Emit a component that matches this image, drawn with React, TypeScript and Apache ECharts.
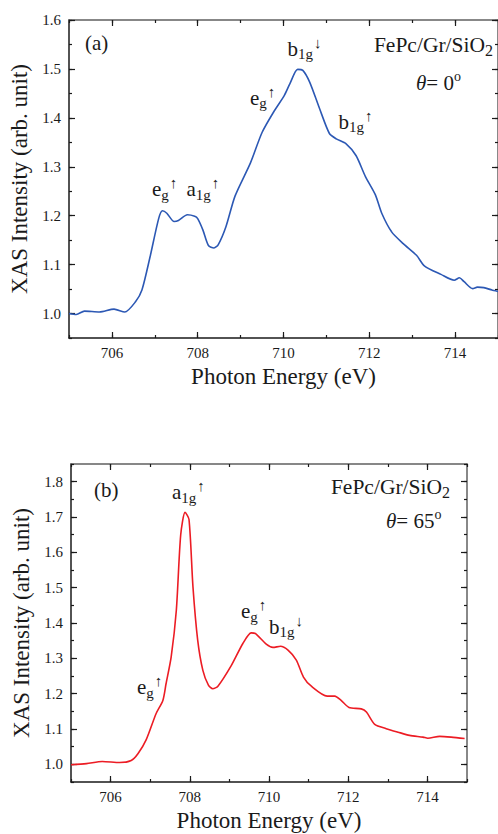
import React, { useEffect, useRef } from "react";
import * as echarts from "echarts";

// ---------- data ----------
const energyA = [705.0, 705.17, 705.36, 705.71, 706.05, 706.3, 706.55, 706.7, 706.89, 707.09, 707.18, 707.28, 707.45, 707.55, 707.76, 707.93, 708.0, 708.12, 708.25, 708.38, 708.48, 708.66, 708.87, 709.23, 709.5, 709.77, 710.02, 710.15, 710.33, 710.45, 710.61, 710.84, 711.07, 711.23, 711.46, 711.69, 711.91, 712.14, 712.29, 712.52, 712.79, 713.1, 713.29, 713.67, 713.98, 714.1, 714.21, 714.41, 714.52, 714.67, 714.86, 715.0];
const intensityA = [1.0, 0.998, 1.005, 1.003, 1.009, 1.003, 1.024, 1.048, 1.116, 1.194, 1.21, 1.205, 1.188, 1.19, 1.202, 1.199, 1.194, 1.171, 1.139, 1.134, 1.141, 1.178, 1.24, 1.308, 1.37, 1.412, 1.446, 1.47, 1.499, 1.497, 1.473, 1.419, 1.368, 1.357, 1.347, 1.323, 1.28, 1.243, 1.205, 1.167, 1.143, 1.119, 1.097, 1.08, 1.068, 1.073, 1.065, 1.051, 1.054, 1.053, 1.048, 1.045];

const energyB = [705.0, 705.39, 705.79, 706.23, 706.52, 706.69, 706.9, 707.15, 707.32, 707.4, 707.53, 707.66, 707.77, 707.88, 707.98, 708.08, 708.2, 708.33, 708.47, 708.58, 708.71, 709.05, 709.34, 709.55, 709.66, 709.93, 710.1, 710.29, 710.48, 710.69, 710.87, 711.07, 711.47, 711.66, 711.82, 712.02, 712.33, 712.46, 712.67, 712.96, 713.26, 713.55, 713.89, 714.01, 714.31, 714.6, 714.94];
const intensityB = [0.999, 1.002, 1.008, 1.005, 1.011, 1.03, 1.07, 1.144, 1.181, 1.228, 1.304, 1.436, 1.649, 1.713, 1.693, 1.502, 1.351, 1.266, 1.224, 1.214, 1.221, 1.28, 1.342, 1.372, 1.37, 1.34, 1.331, 1.334, 1.323, 1.295, 1.247, 1.221, 1.193, 1.193, 1.181, 1.161, 1.157, 1.148, 1.113, 1.101, 1.091, 1.082, 1.077, 1.074, 1.079, 1.077, 1.073];

const xRange = [705, 715];
const xMajorTicks = [706, 708, 710, 712, 714];
const yRangeA = [0.95, 1.6];
const yMajorTicksA = [1.0, 1.1, 1.2, 1.3, 1.4, 1.5, 1.6];
const yRangeB = [0.95, 1.85];
const yMajorTicksB = [1.0, 1.1, 1.2, 1.3, 1.4, 1.5, 1.6, 1.7, 1.8];

const xTitle = "Photon Energy (eV)";
const yTitle = "XAS Intensity (arb. unit)";
const sampleText = "FePc/Gr/SiO";

const FONT = "Liberation Serif";
const DARK = "#1a1a1a";
const FRAME = "#606060";

function axesFor(gridIndex: number, yr: number[], yMajors: number[], yGap: number) {
  const common = { type: "value", gridIndex, splitLine: { show: false } };
  const xAxes = [
    {
      ...common, position: "bottom", min: xRange[0], max: xRange[1], interval: 1,
      axisLine: { show: true, onZero: false, lineStyle: { color: DARK, width: 1.5 } },
      axisTick: { show: true, inside: true, length: 6, customValues: xMajorTicks, lineStyle: { color: DARK, width: 1.2 } },
      axisLabel: { show: true, customValues: xMajorTicks, margin: 7, fontFamily: FONT, fontSize: 15, color: DARK },
      name: xTitle, nameLocation: "middle", nameGap: 27,
      nameTextStyle: { fontFamily: FONT, fontSize: 23, color: DARK },
    },
    {
      ...common, position: "bottom", min: xRange[0], max: xRange[1], interval: 1,
      axisLine: { show: false, onZero: false },
      axisTick: { show: true, inside: true, length: 3, lineStyle: { color: DARK, width: 1.2 } },
      axisLabel: { show: false },
    },
    {
      ...common, position: "top", min: xRange[0], max: xRange[1], interval: 1,
      axisLine: { show: true, onZero: false, lineStyle: { color: FRAME, width: 1.5 } },
      axisTick: { show: true, inside: true, length: 6, customValues: xMajorTicks, lineStyle: { color: DARK, width: 1.2 } },
      axisLabel: { show: false },
    },
    {
      ...common, position: "top", min: xRange[0], max: xRange[1], interval: 1,
      axisLine: { show: false, onZero: false },
      axisTick: { show: true, inside: true, length: 3, lineStyle: { color: DARK, width: 1.2 } },
      axisLabel: { show: false },
    },
  ];
  const yAxes = [
    {
      ...common, position: "left", min: yr[0], max: yr[1], interval: 0.05,
      axisLine: { show: true, onZero: false, lineStyle: { color: DARK, width: 1.5 } },
      axisTick: { show: true, inside: true, length: 6, customValues: yMajors, lineStyle: { color: DARK, width: 1.2 } },
      axisLabel: {
        show: true, customValues: yMajors, margin: 8, fontFamily: FONT, fontSize: 15, color: DARK,
        formatter: (v: number) => v.toFixed(1),
      },
      name: yTitle, nameLocation: "middle", nameGap: yGap,
      nameTextStyle: { fontFamily: FONT, fontSize: 23, color: DARK },
    },
    {
      ...common, position: "left", min: yr[0], max: yr[1], interval: 0.05,
      axisLine: { show: false, onZero: false },
      axisTick: { show: true, inside: true, length: 3, lineStyle: { color: DARK, width: 1.2 } },
      axisLabel: { show: false },
    },
    {
      ...common, position: "right", min: yr[0], max: yr[1], interval: 0.05,
      axisLine: { show: true, onZero: false, lineStyle: { color: FRAME, width: 1.5 } },
      axisTick: { show: true, inside: true, length: 6, customValues: yMajors, lineStyle: { color: DARK, width: 1.2 } },
      axisLabel: { show: false },
    },
    {
      ...common, position: "right", min: yr[0], max: yr[1], interval: 0.05,
      axisLine: { show: false, onZero: false },
      axisTick: { show: true, inside: true, length: 3, lineStyle: { color: DARK, width: 1.2 } },
      axisLabel: { show: false },
    },
  ];
  return { xAxes, yAxes };
}

const mainStyle = { fontFamily: FONT, fontSize: 21, fill: DARK, color: DARK };
const subStyle = { fontFamily: FONT, fontSize: 15, fill: DARK, color: DARK, padding: [11, 0, 0, 0] };
const supStyle = { fontFamily: FONT, fontSize: 15, fill: DARK, color: DARK, padding: [0, 0, 12, 1] };
const italicStyle = { fontFamily: FONT, fontSize: 21, fontStyle: "italic", fill: DARK, color: DARK };
const degStyle = { fontFamily: FONT, fontSize: 14, fill: DARK, color: DARK, padding: [0, 0, 12, 0] };

function peak(x: number, y: number, main: string, sub: string, arrow: string) {
  return {
    type: "text", x, y, silent: true,
    style: {
      text: `{m|${main}}{s|${sub}}{u|${arrow}}`,
      align: "left", verticalAlign: "middle",
      rich: { m: mainStyle, s: subStyle, u: supStyle },
    },
  };
}

function plain(x: number, y: number, text: string, align = "left") {
  return {
    type: "text", x, y, silent: true,
    style: { text: `{m|${text}}`, align, verticalAlign: "middle", rich: { m: mainStyle } },
  };
}

function sample(xRight: number, y: number) {
  return {
    type: "text", x: xRight, y, silent: true,
    style: {
      text: `{m|${sampleText}}{s|2}`, align: "right", verticalAlign: "middle",
      rich: { m: { ...mainStyle, fontSize: 21.5 }, s: { ...subStyle, fontSize: 16, padding: [11, 0, 0, 0] } },
    },
  };
}

function angle(x: number, y: number, deg: string) {
  return {
    type: "text", x, y, silent: true,
    style: {
      text: `{i|θ}{m|= ${deg}}{d|o}`, align: "left", verticalAlign: "middle",
      rich: { i: italicStyle, m: mainStyle, d: degStyle },
    },
  };
}

export default function App() {
  const ref = useRef<HTMLDivElement>(null);
  useEffect(() => {
    if (!ref.current) return;
    const chart = echarts.init(ref.current, null, { renderer: "svg" });
    const a = axesFor(0, yRangeA, yMajorTicksA, 33);
    const b = axesFor(1, yRangeB, yMajorTicksB, 35);
    const option: any = {
      animation: false,
      backgroundColor: "#ffffff",
      textStyle: { fontFamily: FONT },
      grid: [
        { left: 69, top: 20, width: 435, height: 318 },
        { left: 71, top: 464, width: 396, height: 318 },
      ],
      xAxis: [...a.xAxes, ...b.xAxes],
      yAxis: [...a.yAxes, ...b.yAxes],
      series: [
        {
          type: "line", xAxisIndex: 0, yAxisIndex: 0, showSymbol: false, smooth: 0.25,
          data: energyA.map((e, i) => [e, intensityA[i]]),
          lineStyle: { color: "#2c58b4", width: 1.6 }, clip: true, silent: true,
        },
        {
          type: "line", xAxisIndex: 4, yAxisIndex: 4, showSymbol: false, smooth: 0.25,
          data: energyB.map((e, i) => [e, intensityB[i]]),
          lineStyle: { color: "#ec1c24", width: 1.6 }, clip: true, silent: true,
        },
      ],
      graphic: [
        plain(85, 43, "(a)"),
        sample(493, 45),
        angle(416, 82.5, "0"),
        peak(152, 189, "e", "g", "↑"),
        peak(186.5, 189, "a", "1g", "↑"),
        peak(250, 97.7, "e", "g", "↑"),
        peak(287.5, 48.5, "b", "1g", "↓"),
        peak(338.5, 121.5, "b", "1g", "↑"),

        plain(94, 489.6, "(b)"),
        sample(450, 486.6),
        angle(386, 520.6, "65"),
        peak(172, 492.4, "a", "1g", "↑"),
        peak(241, 611, "e", "g", "↑"),
        peak(269, 626.8, "b", "1g", "↓"),
        peak(137, 687.4, "e", "g", "↑"),
      ],
    };
    chart.setOption(option);
    return () => chart.dispose();
  }, []);
  return (
    <div
      ref={ref}
      style={{ position: "absolute", left: 0, top: 0, width: 498, height: 834, background: "#fff" }}
    />
  );
}
